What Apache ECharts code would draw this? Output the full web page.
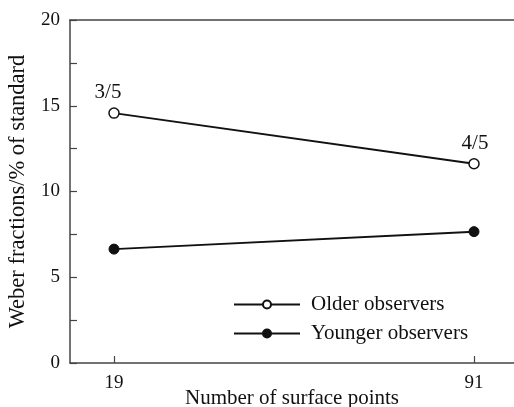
<!DOCTYPE html>
<html>
<head>
<meta charset="utf-8">
<script src="https://cdn.jsdelivr.net/npm/echarts@6/dist/echarts.min.js"></script>
<style>html,body{margin:0;padding:0;background:#fff;}#c{width:514px;height:407px;}</style>
</head>
<body>
<div id="c"></div>
<script>
var xPoints = [19, 91];
var olderValues = [14.57, 11.62];
var youngerValues = [6.64, 7.66];
var olderLabels = ['3/5', '4/5'];
var yTicks = [0, 5, 10, 15, 20];
var seriesNames = ['Older observers', 'Younger observers'];

var FONT = 'Liberation Serif';
var labelOffsets = [[-6, 0], [1, 0]];
var chart = echarts.init(document.getElementById('c'));
var axisColor = '#444';
chart.setOption({
  animation: false,
  backgroundColor: '#fff',
  textStyle: {fontFamily: FONT, color: '#111'},
  grid: {left: 70, right: 0, top: 20, bottom: 44, containLabel: false, outerBoundsMode: 'none'},
  legend: {
    orient: 'vertical',
    left: 228, top: 289,
    itemWidth: 66, itemHeight: 10, itemGap: 8,
    textStyle: {fontFamily: FONT, fontSize: 21, lineHeight: 21, color: '#111', padding: [0, 0, 0, 6]},
    data: seriesNames
  },
  xAxis: [{
    type: 'value', min: 10.2, max: 99,
    axisLine: {lineStyle: {color: axisColor, width: 1.5}},
    axisTick: {inside: true, length: 7, customValues: xPoints, lineStyle: {color: axisColor, width: 1.2}},
    axisLabel: {customValues: xPoints, fontSize: 19, color: '#111', fontFamily: FONT, margin: 11},
    splitLine: {show: false},
    name: 'Number of surface points', nameLocation: 'middle', nameGap: 25, nameMoveOverlap: false,
    nameTextStyle: {fontSize: 21, color: '#111', fontFamily: FONT}
  }, {
    type: 'value', min: 10.2, max: 99, position: 'top',
    axisLine: {show: true, lineStyle: {color: axisColor, width: 1.5}},
    axisTick: {show: false}, axisLabel: {show: false}, splitLine: {show: false}
  }],
  yAxis: {
    type: 'value', min: 0, max: 20, interval: 5,
    axisLine: {show: true, lineStyle: {color: axisColor, width: 1.5}},
    axisTick: {show: true, inside: true, length: 7, lineStyle: {color: axisColor, width: 1.2}},
    minorTick: {show: true, splitNumber: 2, length: 7, lineStyle: {color: axisColor, width: 1.2}},
    axisLabel: {fontSize: 19, color: '#111', fontFamily: FONT, margin: 10,
      formatter: function (v) { return yTicks.indexOf(v) >= 0 ? String(v) : ''; }},
    splitLine: {show: false},
    name: 'Weber fractions/% of standard', nameLocation: 'middle', nameGap: 40,
    nameTextStyle: {fontSize: 22.5, color: '#111', fontFamily: FONT}
  },
  series: [{
    name: seriesNames[0], type: 'line',
    symbol: 'circle', symbolSize: 10,
    itemStyle: {color: '#fff', borderColor: '#111', borderWidth: 1.5},
    lineStyle: {color: '#111', width: 2},
    label: {show: true, position: 'top', distance: 4, fontSize: 21, color: '#111', fontFamily: FONT,
      formatter: function (p) { return olderLabels[p.dataIndex]; }},
    data: xPoints.map(function (x, i) {
      return {value: [x, olderValues[i]], label: {offset: labelOffsets[i]}};
    })
  }, {
    name: seriesNames[1], type: 'line',
    symbol: 'circle', symbolSize: 10,
    itemStyle: {color: '#111', borderColor: '#111', borderWidth: 1},
    lineStyle: {color: '#111', width: 2},
    data: xPoints.map(function (x, i) { return [x, youngerValues[i]]; })
  }]
});
</script>
</body>
</html>
